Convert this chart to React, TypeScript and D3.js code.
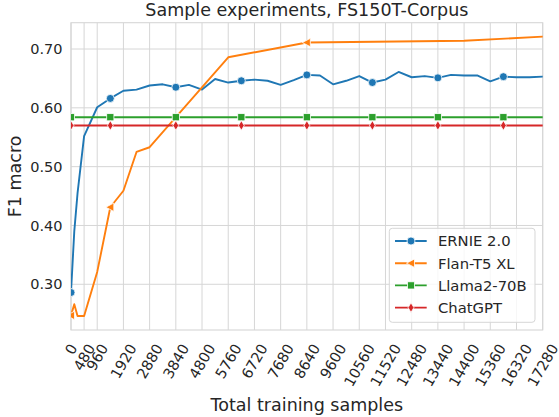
import * as d3 from 'd3'

const title = 'Sample experiments, FS150T-Corpus'
const xLabel = 'Total training samples'
const yLabel = 'F1 macro'

// training set sizes used for ERNIE (and the flat LLM baselines)
const ernieSamples = [
  0, 120, 240, 480, 960, 1440, 1920, 2400, 2880, 3360, 3840, 4320, 4800, 5280, 5760, 6240, 6720,
  7200, 7680, 8160, 8640, 9120, 9600, 10080, 10560, 11040, 11520, 12000, 12480, 12960, 13440,
  13920, 14400, 14880, 15360, 15840, 16320, 16800, 17280,
]
const ernieF1 = [
  0.286, 0.39, 0.455, 0.552, 0.601, 0.616, 0.629, 0.631, 0.638, 0.64, 0.635, 0.639, 0.631, 0.649,
  0.643, 0.646, 0.648, 0.646, 0.639, 0.647, 0.656, 0.655, 0.64, 0.646, 0.654, 0.643, 0.648, 0.661,
  0.652, 0.654, 0.651, 0.656, 0.655, 0.655, 0.645, 0.653, 0.652, 0.652, 0.653,
]

const flanSamples = [0, 120, 240, 480, 960, 1440, 1920, 2400, 2880, 5760, 8640, 14400, 17280]
const flanF1 = [0.247, 0.266, 0.246, 0.246, 0.321, 0.431, 0.459, 0.525, 0.533, 0.686, 0.711, 0.714, 0.721]

// zero-shot models: one score each
const llamaF1 = 0.584
const chatgptF1 = 0.57

const xTicks = [
  0, 480, 960, 1920, 2880, 3840, 4800, 5760, 6720, 7680, 8640, 9600, 10560, 11520, 12480, 13440,
  14400, 15360, 16320, 17280,
]
const yTicks = [0.3, 0.4, 0.5, 0.6, 0.7]

const W = 559
const H = 417
const margin = { top: 22.7, right: 16.3, bottom: 87, left: 71 }
const MARK_EVERY = 5

const ink = '#262626'
const gridColor = '#d6d6d6'
const font = '"DejaVu Sans", sans-serif'

type Shape = 'circle' | 'tri' | 'square' | 'diamond'

function Marker({ shape, x, y, color }: { shape: Shape; x: number; y: number; color: string }) {
  const sw = 0.8
  if (shape === 'circle') return <circle cx={x} cy={y} r={4} fill={color} stroke="#fff" strokeWidth={sw} />
  if (shape === 'square')
    return <rect x={x - 3.6} y={y - 3.6} width={7.2} height={7.2} fill={color} stroke="#fff" strokeWidth={sw} />
  if (shape === 'diamond')
    return (
      <path d={`M${x},${y - 4.8}L${x + 2.9},${y}L${x},${y + 4.8}L${x - 2.9},${y}Z`} fill={color} stroke="#fff" strokeWidth={sw} />
    )
  return <path d={`M${x - 4.5},${y}L${x + 3.5},${y - 4.2}L${x + 3.5},${y + 4.2}Z`} fill={color} stroke="#fff" strokeWidth={sw} />
}

export default function App() {
  const innerW = W - margin.left - margin.right
  const innerH = H - margin.top - margin.bottom

  const x = d3.scaleLinear().domain([0, 17280]).range([0, innerW])
  const all = [...ernieF1, ...flanF1, llamaF1, chatgptF1]
  const [lo, hi] = d3.extent(all) as [number, number]
  const pad = (hi - lo) * 0.05
  const y = d3.scaleLinear().domain([lo - pad, hi + pad]).range([innerH, 0])

  const line = d3
    .line<[number, number]>()
    .x((d) => x(d[0]))
    .y((d) => y(d[1]))

  const series = [
    { name: 'ERNIE 2.0', color: '#1f77b4', shape: 'circle' as Shape, pts: ernieSamples.map((s, i) => [s, ernieF1[i]] as [number, number]) },
    { name: 'Flan-T5 XL', color: '#ff7f0e', shape: 'tri' as Shape, pts: flanSamples.map((s, i) => [s, flanF1[i]] as [number, number]) },
    { name: 'Llama2-70B', color: '#2ca02c', shape: 'square' as Shape, pts: ernieSamples.map((s) => [s, llamaF1] as [number, number]) },
    { name: 'ChatGPT', color: '#d62728', shape: 'diamond' as Shape, pts: ernieSamples.map((s) => [s, chatgptF1] as [number, number]) },
  ]

  const tickFs = 14.5
  const sin60 = Math.sin(Math.PI / 3)
  const cos60 = Math.cos(Math.PI / 3)

  // legend placement
  const lg = { x: 389.3 - margin.left, y: 228.3 - margin.top, w: 145.7, h: 94, row: 22.2 }

  return (
    <svg
      width={W}
      height={H}
      style={{ position: 'absolute', left: 0, top: 0, display: 'block', background: '#fff' }}
      fontFamily={font}
    >
      <defs>
        <clipPath id="plot-clip">
          <rect x={0} y={0} width={innerW} height={innerH} />
        </clipPath>
      </defs>

      <text x={margin.left + innerW / 2} y={15.5} textAnchor="middle" fontSize={17.5} fill={ink}>
        {title}
      </text>

      <g transform={`translate(${margin.left},${margin.top})`}>
        {/* grid */}
        {xTicks.map((t) => (
          <line key={'gx' + t} x1={x(t)} x2={x(t)} y1={0} y2={innerH} stroke={gridColor} strokeWidth={1} />
        ))}
        {yTicks.map((t) => (
          <line key={'gy' + t} x1={0} x2={innerW} y1={y(t)} y2={y(t)} stroke={gridColor} strokeWidth={1} />
        ))}
        <rect x={0} y={0} width={innerW} height={innerH} fill="none" stroke={gridColor} strokeWidth={1.1} />

        {/* series */}
        <g clipPath="url(#plot-clip)">
          {series.map((s) => (
            <g key={s.name}>
              <path d={line(s.pts) ?? ''} fill="none" stroke={s.color} strokeWidth={1.9} strokeLinejoin="round" strokeLinecap="round" />
              {s.pts
                .filter((_, i) => i % MARK_EVERY === 0)
                .map((p) => (
                  <Marker key={p[0]} shape={s.shape} x={x(p[0])} y={y(p[1])} color={s.color} />
                ))}
            </g>
          ))}
        </g>

        {/* y tick labels */}
        {yTicks.map((t) => (
          <text key={'yl' + t} x={-8.5} y={y(t)} dy="0.36em" textAnchor="end" fontSize={tickFs} fill={ink}>
            {d3.format('.2f')(t)}
          </text>
        ))}

        {/* x tick labels, rotated 60deg, bbox centred on tick */}
        {xTicks.map((t) => {
          const label = String(t)
          const w = label.length * 0.636 * tickFs
          const bh = w * sin60 + 1.164 * tickFs * cos60
          const cy = innerH + 11 + bh / 2
          return (
            <text
              key={'xl' + t}
              transform={`translate(${x(t)},${cy}) rotate(-60)`}
              textAnchor="middle"
              dy="0.36em"
              fontSize={tickFs}
              fill={ink}
            >
              {label}
            </text>
          )
        })}

        <text x={innerW / 2} y={H - margin.top - 6.2} textAnchor="middle" fontSize={17.5} fill={ink}>
          {xLabel}
        </text>
        <text transform={`translate(${20.7 - margin.left},${innerH / 2}) rotate(-90)`} textAnchor="middle" fontSize={17.5} fill={ink}>
          {yLabel}
        </text>

        {/* legend */}
        <g transform={`translate(${lg.x},${lg.y})`}>
          <rect x={0} y={0} width={lg.w} height={lg.h} rx={3} fill="#fff" fillOpacity={0.8} stroke="#d6d6d6" strokeWidth={1} />
          {series.map((s, i) => {
            const cy = 12.7 + i * lg.row
            return (
              <g key={'lg' + s.name}>
                <line x1={5.7} x2={37.4} y1={cy} y2={cy} stroke={s.color} strokeWidth={1.9} />
                <Marker shape={s.shape} x={21.7} y={cy} color={s.color} />
                <text x={48.7} y={cy} dy="0.36em" fontSize={14.8} fill={ink}>
                  {s.name}
                </text>
              </g>
            )
          })}
        </g>
      </g>
    </svg>
  )
}
